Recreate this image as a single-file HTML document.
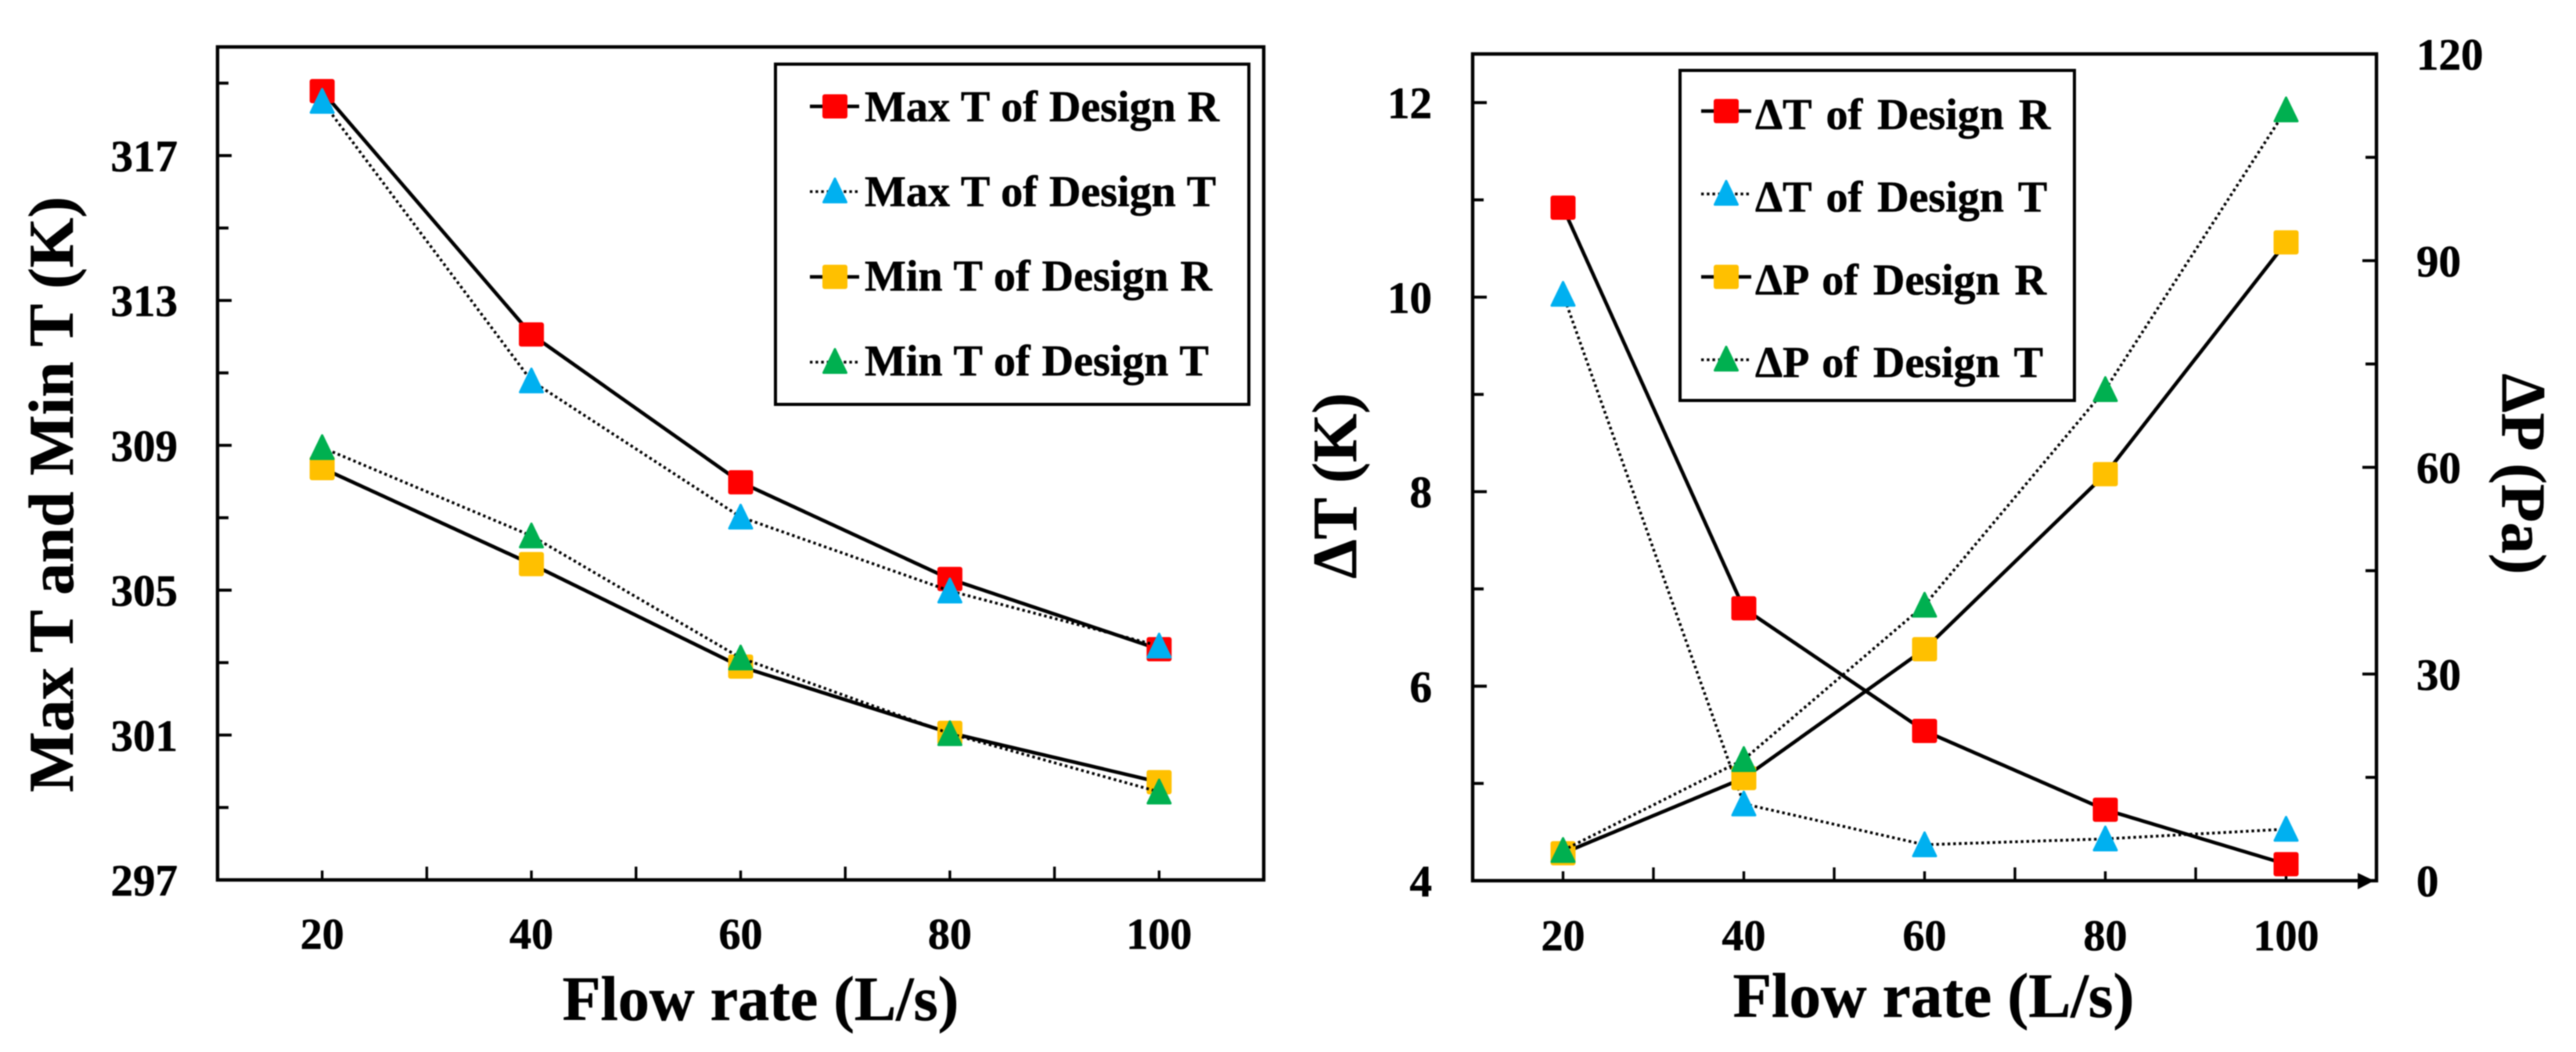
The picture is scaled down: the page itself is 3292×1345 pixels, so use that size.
<!DOCTYPE html>
<html lang="en">
<head>
<meta charset="utf-8">
<title>Flow rate charts</title>
<style>
html,body{margin:0;padding:0;background:#fff;width:3292px;height:1345px;overflow:hidden}
svg{display:block;position:absolute;left:0;top:0}
text{font-family:"Liberation Serif","DejaVu Serif",serif;font-weight:bold;fill:#000;stroke:#000;stroke-width:.6px}
</style>
</head>
<body>
<svg id="fig" width="3292" height="1345" viewBox="0 0 3292 1345" xmlns="http://www.w3.org/2000/svg">
<g id="root" style="filter:blur(0.7px)"></g>
</svg>
<script>
// ---- shared categories ----
const flowRates = [20, 40, 60, 80, 100];

// ---- left chart data ----
const leftYTicks = [297, 301, 305, 309, 313, 317];
const leftYMinorTicks = [299, 303, 307, 311, 315, 319];
const maxTDesignR = [318.78, 312.06, 307.98, 305.31, 303.37];
const maxTDesignT = [318.50, 310.78, 307.02, 304.98, 303.46];
const minTDesignR = [308.37, 305.72, 302.89, 301.06, 299.70];
const minTDesignT = [308.94, 306.50, 303.13, 301.04, 299.43];
const leftLabels = ["Max T of Design R", "Max T of Design T", "Min T of Design R", "Min T of Design T"];

// ---- right chart data ----
const rightYTicks = [4, 6, 8, 10, 12];
const rightYMinorTicks = [5, 7, 9, 11];
const pressureTicks = [0, 30, 60, 90, 120];
const pressureMinorTicks = [15, 45, 75, 105];
const deltaTDesignR = [10.92, 6.80, 5.54, 4.73, 4.17];
const deltaTDesignT = [10.03, 4.79, 4.37, 4.43, 4.53];
const deltaPDesignR = [3.99, 14.9, 33.6, 59.0, 92.65];
const deltaPDesignT = [4.4, 17.6, 40.0, 71.3, 111.9];
const rightLabels = ["\u0394T of Design R", "\u0394T of Design T", "\u0394P of Design R", "\u0394P of Design T"];

// ---- drawing ----
const NS = "http://www.w3.org/2000/svg";
const root = document.getElementById("root");
const RED = "#ff0000", BLUE = "#00b0f0", AMBER = "#ffc000", GREEN = "#00b050";

function mk(parent, tag, attrs, name, text) {
  const e = document.createElementNS(NS, tag);
  for (const k in attrs) e.setAttribute(k, attrs[k]);
  
  
  if (text !== undefined) e.textContent = text;
  parent.appendChild(e);
  return e;
}
function linear(d0, d1, r0, r1) {
  return v => r0 + (v - d0) * (r1 - r0) / (d1 - d0);
}
function slug(s) {
  return s.toLowerCase().replace(/\u0394/g, 'delta-').replace(/[^a-z0-9]+/g, '-');
}
function drawMarker(g, kind, cx, cy, color, name) {
  if (kind === "square") {
    mk(g, "rect", {x: cx - 16, y: cy - 15.5, width: 32, height: 31, rx: 3, fill: color}, name);
  } else {
    mk(g, "polygon", {
      points: (cx - 14.5) + "," + (cy + 14.5) + " " + (cx + 14.5) + "," + (cy + 14.5) + " " + cx + "," + (cy - 15.5),
      fill: color, stroke: color, "stroke-width": 3, "stroke-linejoin": "round"
    }, name);
  }
}
function drawSeries(parent, xs, ys, xScale, yScale, color, kind, solid, name) {
  const g = mk(parent, "g", {}, "series-" + name);
  const pts = xs.map((x, i) => xScale(x) + "," + yScale(ys[i])).join(" ");
  mk(g, "polyline", solid
    ? {points: pts, fill: "none", stroke: "#000", "stroke-width": 4.6}
    : {points: pts, fill: "none", stroke: "#000", "stroke-width": 3.6, "stroke-dasharray": "3.4 3.8"},
    "line-" + name);
  xs.forEach((x, i) => drawMarker(g, kind, xScale(x), yScale(ys[i]), color, "point-" + name + "-" + x));
}
function drawLegend(parent, box, labels, colors, kinds, solids, name) {
  const g = mk(parent, "g", {}, name);
  mk(g, "rect", {x: box.x, y: box.y, width: box.w, height: box.h, fill: "#fff", stroke: "#000", "stroke-width": 4}, name + "-box");
  labels.forEach((label, i) => {
    const ly = box.line0 + i * box.lineStep;
    const by = box.base0 + i * box.baseStep;
    const entry = mk(g, "g", {}, "legend-entry-" + slug(label));
    mk(entry, "line", solids[i]
      ? {x1: box.lx0, x2: box.lx1, y1: ly, y2: ly, stroke: "#000", "stroke-width": 4.6}
      : {x1: box.lx0, x2: box.lx1, y1: ly, y2: ly, stroke: "#000", "stroke-width": 3.6, "stroke-dasharray": "3.4 3.8"},
      "legend-line");
    const my = kinds[i] === "square" ? ly : ly - 1;
    drawMarker(entry, kinds[i], box.mx, my, colors[i], "legend-marker");
    mk(entry, "text", {x: box.tx, y: by, "font-size": 56, "word-spacing": box.ws}, "legend-label", label);
  });
}
function drawFrame(g, L, T, R, B) {
  mk(g, "rect", {x: L, y: T, width: R - L, height: B - T, fill: "none", stroke: "#000", "stroke-width": 4.4}, "plot-frame");
}
function drawXAxis(g, xScale, B, base, titleX, titleY, titleSize) {
  for (let v = 10; v <= 100; v += 10) {
    const labelled = flowRates.includes(v);
    mk(g, "line", {x1: xScale(v), x2: xScale(v), y1: B, y2: B - (labelled ? 12 : 17), stroke: "#000", "stroke-width": 3.4}, "x-tick-" + v);
  }
  flowRates.forEach(v => {
    mk(g, "text", {x: xScale(v), y: base, "font-size": 56, "text-anchor": "middle"}, "x-tick-label-" + v, String(v));
  });
  mk(g, "text", {x: titleX, y: titleY, "font-size": titleSize, "text-anchor": "middle"}, "x-axis-title", "Flow rate (L/s)");
}
function drawYTicks(g, ticks, minor, yScale, x0, dir, labelX, anchor, prefix) {
  ticks.forEach(v => {
    mk(g, "line", {x1: x0, x2: x0 + dir * 18, y1: yScale(v), y2: yScale(v), stroke: "#000", "stroke-width": 3.8}, prefix + "-tick-" + v);
    mk(g, "text", {x: labelX, y: yScale(v) + 20, "font-size": 57, "text-anchor": anchor}, prefix + "-tick-label-" + v, String(v));
  });
  minor.forEach(v => {
    mk(g, "line", {x1: x0, x2: x0 + dir * 14, y1: yScale(v), y2: yScale(v), stroke: "#000", "stroke-width": 3.8}, prefix + "-minor-tick-" + v);
  });
}
function rotatedTitle(g, x, y, angle, size, text, name) {
  mk(g, "text", {x: 0, y: 0, "font-size": size, "text-anchor": "middle", transform: "translate(" + x + "," + y + ") rotate(" + angle + ")"}, name, text);
}

// left chart
(function () {
  const L = 278, R = 1615, T = 60, B = 1125;
  const g = mk(root, "g", {}, "temperature-chart");
  const x = linear(10, 110, L, R);
  const y = linear(297, 320, B, T);
  drawFrame(g, L, T, R, B);
  drawXAxis(g, x, B, 1213, 972, 1304, 80);
  drawYTicks(g, leftYTicks, leftYMinorTicks, y, L, 1, 227, "end", "y-axis");
  rotatedTitle(g, 93, 632, -90, 82, "Max T and Min T (K)", "y-axis-title");
  drawSeries(g, flowRates, maxTDesignR, x, y, RED, "square", true, "max-t-design-r");
  drawSeries(g, flowRates, maxTDesignT, x, y, BLUE, "triangle", false, "max-t-design-t");
  drawSeries(g, flowRates, minTDesignR, x, y, AMBER, "square", true, "min-t-design-r");
  drawSeries(g, flowRates, minTDesignT, x, y, GREEN, "triangle", false, "min-t-design-t");
  drawLegend(g, {x: 991, y: 82, w: 605, h: 435, line0: 136, lineStep: 109, base0: 155, baseStep: 108.3,
    lx0: 1035, lx1: 1098, mx: 1067, tx: 1105, ws: 1}, leftLabels,
    [RED, BLUE, AMBER, GREEN], ["square", "triangle", "square", "triangle"], [true, false, true, false], "temperature-legend");
})();

// right chart
(function () {
  const L = 1882, R = 3037, T = 69, B = 1126;
  const g = mk(root, "g", {}, "delta-chart");
  const x = linear(10, 110, L, R);
  const y = linear(4, 12.5, B, T);
  const yP = linear(0, 120, B, T);
  drawFrame(g, L, T, R, B);
  drawXAxis(g, x, B, 1215, 2471, 1300, 81);
  drawYTicks(g, rightYTicks, rightYMinorTicks, y, L, 1, 1830, "end", "delta-t-axis");
  drawYTicks(g, pressureTicks, pressureMinorTicks, yP, R, -1, 3088, "start", "delta-p-axis");
  mk(g, "polygon", {points: (R - 24) + "," + (B - 10) + " " + (R - 3) + "," + B + " " + (R - 24) + "," + (B + 11), fill: "#000"}, "x-axis-arrow");
  rotatedTitle(g, 1733, 621, -90, 80, "\u0394T (K)", "delta-t-axis-title");
  rotatedTitle(g, 3198, 606, 90, 80, "\u0394P (Pa)", "delta-p-axis-title");
  drawSeries(g, flowRates, deltaTDesignR, x, y, RED, "square", true, "delta-t-design-r");
  drawSeries(g, flowRates, deltaTDesignT, x, y, BLUE, "triangle", false, "delta-t-design-t");
  drawSeries(g, flowRates, deltaPDesignR, x, yP, AMBER, "square", true, "delta-p-design-r");
  drawSeries(g, flowRates, deltaPDesignT, x, yP, GREEN, "triangle", false, "delta-p-design-t");
  drawLegend(g, {x: 2147, y: 90, w: 504, h: 422, line0: 142, lineStep: 106, base0: 165, baseStep: 105.7,
    lx0: 2174, lx1: 2238, mx: 2206, tx: 2243, ws: 5}, rightLabels,
    [RED, BLUE, AMBER, GREEN], ["square", "triangle", "square", "triangle"], [true, false, true, false], "delta-legend");
})();
</script>
</body>
</html>
